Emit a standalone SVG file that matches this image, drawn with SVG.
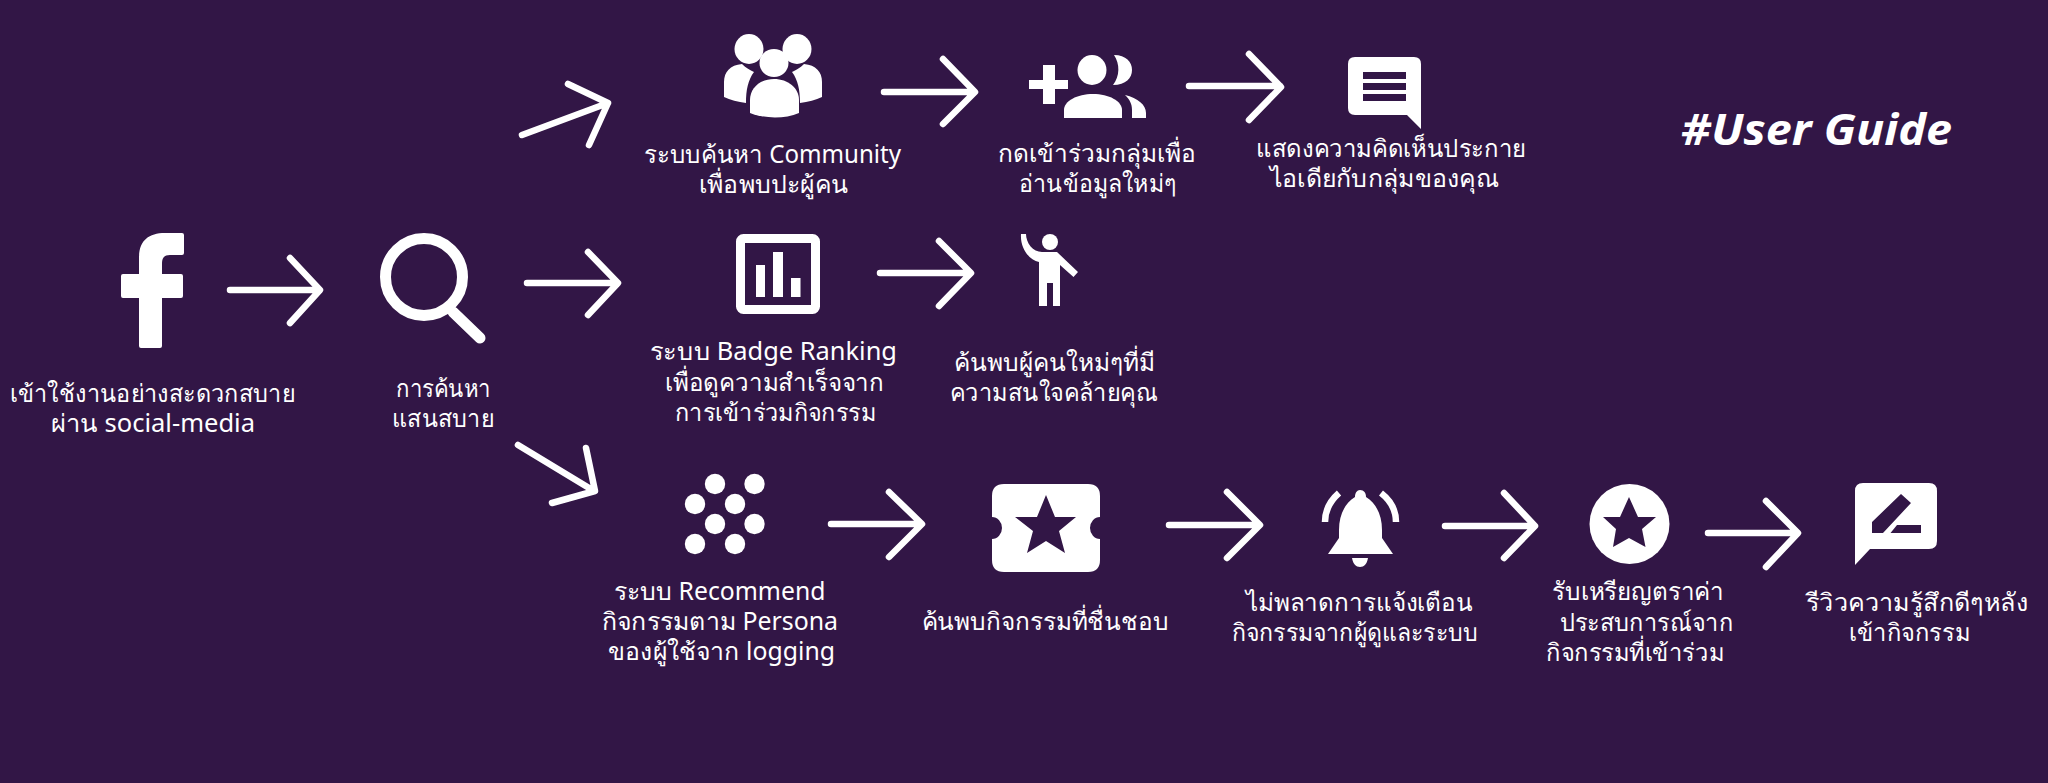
<svg xmlns="http://www.w3.org/2000/svg" width="2048" height="783" viewBox="0 0 2048 783">
<style>
.bg{fill:#321646}
.i{fill:#fff}
.c{fill:#321646}
.o{fill:none;stroke:#fff;stroke-linecap:round;stroke-linejoin:round}
.arrow{fill:none;stroke:#fff;stroke-width:6.500;stroke-linecap:round;stroke-linejoin:round}
text{font-family:"Noto Sans","DejaVu Sans",sans-serif;font-size:24.500px;font-weight:400;fill:#fff}
.t{font-family:"Noto Sans","Open Sans",sans-serif;font-size:43px;font-weight:700;font-style:italic}
</style>
<rect class="bg" width="2048" height="783"/>
<g id="connectors">
<path class="arrow" d="M230 290H319M290 258L320 290L290 323"/>
<path class="arrow" d="M527 283H617M588 252L618 283L588 315"/>
<path class="arrow" d="M518 445L594 491M586 448L595 491L552 503"/>
<path class="arrow" d="M522 135L608 103M568 84L608 103L589 145"/>
<path class="arrow" d="M884 92H974M943 59L975 92L943 124"/>
<path class="arrow" d="M1189 86H1280M1249 54L1281 87L1249 120"/>
<path class="arrow" d="M880 273H970M939 241L971 273L939 306"/>
<path class="arrow" d="M831 524H921M889 492L922 524L889 557"/>
<path class="arrow" d="M1169 525H1259M1227 492L1260 525L1227 558"/>
<path class="arrow" d="M1445 526H1534M1504 493L1535 526L1504 558"/>
<path class="arrow" d="M1708 533H1797M1766 501L1798 533L1766 567"/>
</g>
<g id="node-facebook">
<path class="i" d="M141 348Q139 348 139 346V298H123Q121 298 121 296V276Q121 274 123 274H139V258C139 241 148 233 165 233H182Q184 233 184 235V253Q184 255 182 255H170C164 255 162 258 162 264V274H181Q183 274 183 276V296Q183 298 181 298H162V346Q162 348 160 348Z"/>
<text x="10" y="402" textLength="285" lengthAdjust="spacingAndGlyphs">เข้าใช้งานอย่างสะดวกสบาย</text>
<text x="51" y="432" textLength="204" lengthAdjust="spacingAndGlyphs">ผ่าน social-media</text>
</g>
<g id="node-search">
<circle cx="424" cy="277" r="38.500" fill="none" stroke="#fff" stroke-width="11"/>
<path class="o" stroke-width="11" d="M453 312L480 338"/>
<text x="396" y="397" textLength="95" lengthAdjust="spacingAndGlyphs">การค้นหา</text>
<text x="392" y="427" textLength="102" lengthAdjust="spacingAndGlyphs">แสนสบาย</text>
</g>
<g id="node-community">
<ellipse class="i" cx="749" cy="49" rx="14.500" ry="15"/>
<ellipse class="i" cx="797" cy="49" rx="14.500" ry="15"/>
<path class="i" d="M724 97V82C724 72 730 65 742 64C746 68 750 70 754 72C748 80 746 90 746 103C738 102 730 100 724 97Z"/>
<path class="i" d="M822 97V82C822 72 816 65 804 64C800 68 796 70 792 72C798 80 800 90 800 103C808 102 816 100 822 97Z"/>
<ellipse class="i" cx="774" cy="63" rx="14.500" ry="14"/>
<path class="i" d="M750 113V100C750 88 760 79 774 79C788 79 799 88 799 100V113C785 119 765 119 750 113Z"/>
<text x="644" y="163" textLength="257" lengthAdjust="spacingAndGlyphs">ระบบค้นหา Community</text>
<text x="699" y="193" textLength="149" lengthAdjust="spacingAndGlyphs">เพื่อพบปะผู้คน</text>
</g>
<g id="node-join">
<path class="i" d="M1043 65H1055V80H1068V89H1055V104H1043V89H1029V80H1043Z"/>
<ellipse class="i" cx="1092" cy="70" rx="14.500" ry="15"/>
<path class="i" d="M1064 118V110C1064 101 1077 94 1093 94C1109 94 1122 101 1122 110V118Z"/>
<path class="i" d="M1114 55C1126 55 1132 62 1132 70C1132 78 1126 85 1113 85C1120 76 1120 64 1114 55Z"/>
<path class="i" d="M1125 95C1138 98 1146 105 1146 113V118H1132V110C1132 104 1130 100 1125 95Z"/>
<text x="998" y="162" textLength="198" lengthAdjust="spacingAndGlyphs">กดเข้าร่วมกลุ่มเพื่อ</text>
<text x="1019" y="192" textLength="157" lengthAdjust="spacingAndGlyphs">อ่านข้อมูลใหม่ๆ</text>
</g>
<g id="node-comment">
<path class="i" d="M1355 57H1414Q1421 57 1421 64V129L1407 115H1355Q1348 115 1348 108V64Q1348 57 1355 57Z"/>
<path class="c" d="M1363 72H1406V79H1363ZM1363 83H1406V90H1363ZM1363 94H1406V101H1363Z"/>
<text x="1256" y="157" textLength="270" lengthAdjust="spacingAndGlyphs">แสดงความคิดเห็นประกาย</text>
<text x="1270" y="187" textLength="229" lengthAdjust="spacingAndGlyphs">ไอเดียกับกลุ่มของคุณ</text>
</g>
<g id="title">
<text class="t" x="1681" y="145" textLength="271" lengthAdjust="spacingAndGlyphs">#User Guide</text>
</g>
<g id="node-badge">
<rect x="740.500" y="238.500" width="75" height="71" rx="3" fill="none" stroke="#fff" stroke-width="9"/>
<path class="i" d="M756 265H765V297H756ZM773 252H783V297H773ZM791 278H800.500V297H791Z"/>
<text x="650" y="360" textLength="247" lengthAdjust="spacingAndGlyphs">ระบบ Badge Ranking</text>
<text x="665" y="391" textLength="219" lengthAdjust="spacingAndGlyphs">เพื่อดูความสำเร็จจาก</text>
<text x="675" y="421" textLength="201" lengthAdjust="spacingAndGlyphs">การเข้าร่วมกิจกรรม</text>
</g>
<g id="node-person">
<circle class="i" cx="1050" cy="242" r="8"/>
<path class="i" d="M1021 234H1026C1026 243 1033 252 1042 252H1057L1078 272L1073.500 277L1060 265V306H1053V283H1047V306H1039V262C1029 260 1020 248 1021 234Z"/>
<text x="954" y="371" textLength="201" lengthAdjust="spacingAndGlyphs">ค้นพบผู้คนใหม่ๆที่มี</text>
<text x="950" y="401" textLength="208" lengthAdjust="spacingAndGlyphs">ความสนใจคล้ายคุณ</text>
</g>
<g id="node-recommend">
<g class="i">
<circle cx="715" cy="484" r="10.200"/><circle cx="754.500" cy="484" r="10.200"/>
<circle cx="695" cy="504" r="10.200"/><circle cx="735" cy="504" r="10.200"/>
<circle cx="715" cy="524" r="10.200"/><circle cx="754.500" cy="524" r="10.200"/>
<circle cx="695" cy="544" r="10.200"/><circle cx="735" cy="544" r="10.200"/>
</g>
<text x="613.500" y="600" textLength="212" lengthAdjust="spacingAndGlyphs">ระบบ Recommend</text>
<text x="602" y="630" textLength="236" lengthAdjust="spacingAndGlyphs">กิจกรรมตาม Persona</text>
<text x="608" y="660" textLength="227" lengthAdjust="spacingAndGlyphs">ของผู้ใช้จาก logging</text>
</g>
<g id="node-ticket">
<path class="i" d="M1004 484H1088Q1100 484 1100 496V517A10 11 0 0 0 1100 539V560Q1100 572 1088 572H1004Q992 572 992 560V539A10 11 0 0 0 992 517V496Q992 484 1004 484Z"/>
<path class="c" d="M1046 495L1055 517H1076L1059 531L1065 553L1046 541L1027 553L1033 531L1015 517H1037Z"/>
<text x="921.500" y="630" textLength="247.500" lengthAdjust="spacingAndGlyphs">ค้นพบกิจกรรมที่ชื่นชอบ</text>
</g>
<g id="node-bell">
<path class="i" d="M1360 490C1364 490 1366 493 1366 497C1376 503 1382 515 1382 530V538L1393 554H1328L1339 538V530C1339 515 1345 503 1355 497C1355 493 1357 490 1360 490Z"/>
<path class="i" d="M1352 558H1368C1367 564 1364 567 1360 567C1356 567 1353 564 1352 558Z"/>
<path class="o" stroke-width="6.500" style="stroke-linecap:butt" d="M1325 522C1325 510 1331 500 1339 493M1396 522C1396 510 1390 500 1381 493"/>
<text x="1246" y="611" textLength="227" lengthAdjust="spacingAndGlyphs">ไม่พลาดการแจ้งเตือน</text>
<text x="1232" y="641" textLength="246" lengthAdjust="spacingAndGlyphs">กิจกรรมจากผู้ดูและระบบ</text>
</g>
<g id="node-medal">
<circle class="i" cx="1629.500" cy="524" r="40"/>
<path class="c" d="M1629 497L1638 517H1656L1642 529L1645.500 547L1629 538L1613 547L1616 529L1603 517H1620Z"/>
<text x="1552" y="600" textLength="172" lengthAdjust="spacingAndGlyphs">รับเหรียญตราค่า</text>
<text x="1559.500" y="631" textLength="173.500" lengthAdjust="spacingAndGlyphs">ประสบการณ์จาก</text>
<text x="1546" y="661" textLength="178" lengthAdjust="spacingAndGlyphs">กิจกรรมที่เข้าร่วม</text>
</g>
<g id="node-review">
<path class="i" d="M1863 483H1929Q1937 483 1937 491V541Q1937 549 1929 549H1870L1855 565V491Q1855 483 1863 483Z"/>
<path class="c" d="M1901 494L1911 503L1883 533H1872V522ZM1897 525H1921V533H1890.500Z"/>
<text x="1806" y="611" textLength="222" lengthAdjust="spacingAndGlyphs">รีวิวความรู้สึกดีๆหลัง</text>
<text x="1849" y="641" textLength="121" lengthAdjust="spacingAndGlyphs">เข้ากิจกรรม</text>
</g>
</svg>
